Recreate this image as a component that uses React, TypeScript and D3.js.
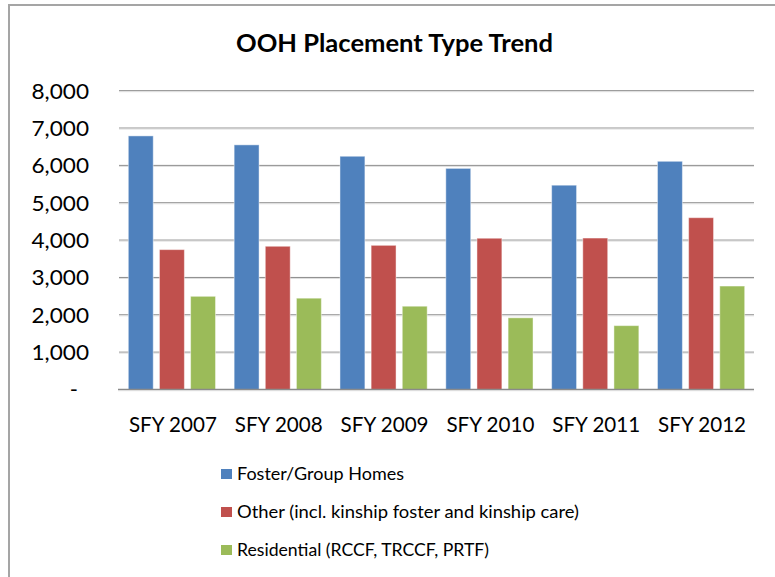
import React from "react";
import * as d3 from "d3";

const categories = ["SFY 2007", "SFY 2008", "SFY 2009", "SFY 2010", "SFY 2011", "SFY 2012"];
const seriesNames = [
  "Foster/Group Homes",
  "Other (incl. kinship foster and kinship care)",
  "Residential (RCCF, TRCCF, PRTF)",
];
const fosterGroupHomes = [6790, 6550, 6245, 5920, 5470, 6110];
const otherKinship = [3745, 3835, 3860, 4050, 4055, 4600];
const residential = [2495, 2445, 2230, 1920, 1710, 2770];
const yTicks = [0, 1000, 2000, 3000, 4000, 5000, 6000, 7000, 8000];
const colors = ["#4f81bd", "#c0504d", "#9bbb59"];

const W = 775;
const H = 577;
const FONT = "Lato, 'Open Sans', sans-serif";
const legendWidths = [167, 342, 252];

export default function App() {
  const series = [fosterGroupHomes, otherKinship, residential];
  const left = 119;
  const right = 754;
  const x0 = d3.scaleBand<string>().domain(categories).range([left, right]).paddingInner(0).paddingOuter(0);
  const bw = x0.bandwidth();
  const x1 = d3
    .scaleBand<string>()
    .domain(seriesNames)
    .range([bw * 0.088, bw * 0.912])
    .paddingInner(0.2)
    .paddingOuter(0);
  const y = d3.scaleLinear().domain([0, 8000]).range([389.5, 90.7]);
  const fmt = d3.format(",");

  return (
    <svg
      width={W}
      height={H}
      style={{ position: "absolute", left: 0, top: 0, background: "#fff" }}
      fontFamily={FONT}
    >
      <rect x={0} y={0} width={W} height={H} fill="#fff" />
      <rect x={9} y={5} width={820} height={620} fill="none" stroke="#a5a5a5" strokeWidth={2} />
      <text
        x={394.5}
        y={52}
        textAnchor="middle"
        fontWeight="bold"
        fontSize={25}
        fill="#000"
        textLength={317}
        lengthAdjust="spacingAndGlyphs"
      >
        OOH Placement Type Trend
      </text>

      {yTicks.filter((t) => t > 0).map((t) => (
        <g key={"g" + t}>
          <line x1={left} x2={right} y1={y(t)} y2={y(t)} stroke="#878787" strokeWidth={1} />
          <line x1={left} x2={right} y1={y(t) + 1} y2={y(t) + 1} stroke="#dedede" strokeWidth={1} />
        </g>
      ))}

      {categories.map((c, i) => (
        <g key={c} transform={`translate(${x0(c)},0)`}>
          {series.map((s, j) => (
            <rect
              key={j}
              x={x1(seriesNames[j])}
              y={y(s[i])}
              width={x1.bandwidth()}
              height={y(0) - y(s[i])}
              fill={colors[j]}
              stroke="rgba(255,255,255,0.45)"
              strokeWidth={1}
            />
          ))}
        </g>
      ))}

      <line x1={left - 1} x2={right} y1={y(0)} y2={y(0)} stroke="#8a8a8a" strokeWidth={1.5} />
      <line x1={left - 1} x2={right} y1={y(0) + 1.2} y2={y(0) + 1.2} stroke="#dcdcdc" strokeWidth={1} />

      {yTicks.map((t) =>
        t === 0 ? (
          <text key={"t" + t} x={78} y={y(t)} dy="0.36em" textAnchor="end" fontSize={22} fill="#000">
            -
          </text>
        ) : (
          <text
            key={"t" + t}
            x={89}
            y={y(t)}
            dy="0.36em"
            textAnchor="end"
            fontSize={22}
            fill="#000"
            textLength={57.5}
            lengthAdjust="spacingAndGlyphs"
          >
            {fmt(t)}
          </text>
        )
      )}

      {categories.map((c) => (
        <text
          key={"c" + c}
          x={(x0(c) as number) + bw / 2 + 1}
          y={431.7}
          textAnchor="middle"
          fontSize={22}
          fill="#000"
          textLength={88}
          lengthAdjust="spacingAndGlyphs"
        >
          {c}
        </text>
      ))}

      {seriesNames.map((n, j) => (
        <g key={"l" + j} transform={`translate(0,${474 + j * 38})`}>
          <rect x={221} y={-5} width={11} height={10} fill={colors[j]} />
          <text
            x={237}
            y={0}
            dy="0.36em"
            fontSize={17.5}
            fill="#000"
            textLength={legendWidths[j]}
            lengthAdjust="spacingAndGlyphs"
          >
            {n}
          </text>
        </g>
      ))}
    </svg>
  );
}
